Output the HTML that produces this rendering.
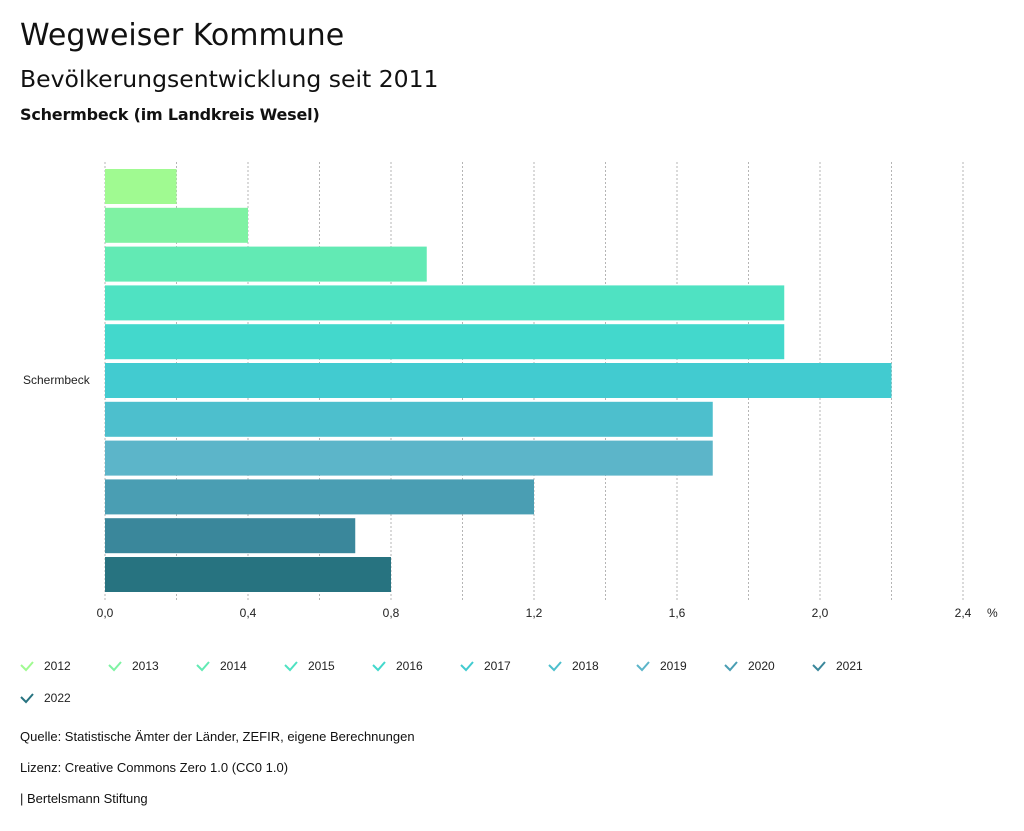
<!DOCTYPE html>
<html><head><meta charset="utf-8"><style>
body{margin:0;background:#fff;font-family:"Liberation Sans",sans-serif;color:#111}
#wrap{position:relative;width:1024px;height:831px;overflow:hidden}
.t{position:absolute;white-space:nowrap}
.dv{font-family:"DejaVu Sans",sans-serif}
</style></head><body>
<div id="wrap">
<div class="t dv" style="left:20px;top:18px;font-size:30px">Wegweiser Kommune</div>
<div class="t dv" style="left:20px;top:65px;font-size:23.5px">Bevölkerungsentwicklung seit 2011</div>
<div class="t dv" style="left:20px;top:105px;font-size:16px;font-weight:bold;letter-spacing:-0.2px">Schermbeck (im Landkreis Wesel)</div>
<svg id="chart" width="1024" height="831" style="position:absolute;left:0;top:0"></svg>
<div class="t" style="left:20px;top:729px;font-size:13px">Quelle: Statistische Ämter der Länder, ZEFIR, eigene Berechnungen</div>
<div class="t" style="left:20px;top:760px;font-size:13px">Lizenz: Creative Commons Zero 1.0 (CC0 1.0)</div>
<div class="t" style="left:20px;top:791px;font-size:13px">| Bertelsmann Stiftung</div>
</div>
<script>
const years=["2012","2013","2014","2015","2016","2017","2018","2019","2020","2021","2022"];
const values=[0.2,0.4,0.9,1.9,1.9,2.2,1.7,1.7,1.2,0.7,0.8];
const colors=["#a0fa91","#7ff2a3","#62eab4","#4fe2c2","#43d8cc","#42cbd0","#4dbfcd","#5cb5c9","#4a9eb3","#3a879b","#277380"];
const ticks=[0,0.4,0.8,1.2,1.6,2.0,2.4];
const gridVals=[0,0.2,0.4,0.6,0.8,1.0,1.2,1.4,1.6,1.8,2.0,2.2,2.4];
const svg=document.getElementById('chart');
const NS="http://www.w3.org/2000/svg";
const x0=105,x1=963,vmax=2.4,top0=169,step=38.8,bh=35;
const X=v=>x0+(v/vmax)*(x1-x0);
function mk(t,a){const e=document.createElementNS(NS,t);for(const k in a)e.setAttribute(k,a[k]);svg.appendChild(e);return e;}
gridVals.forEach(v=>{const l=mk('line',{x1:X(v),x2:X(v),y1:162,y2:600,stroke:'#b5b5b5','stroke-dasharray':'2,2'});

});
values.forEach((v,i)=>{const r=mk('rect',{x:x0,y:top0+i*step,width:X(v)-x0,height:bh,fill:colors[i]});

});
ticks.forEach(v=>{const t=mk('text',{x:X(v),y:617,'text-anchor':'middle','font-size':12,fill:'#222','font-family':'Liberation Sans'});t.textContent=v.toFixed(1).replace('.',',');

});
const u=mk('text',{x:987,y:617,'font-size':12,fill:'#222','font-family':'Liberation Sans'});u.textContent='%';


const c=mk('text',{x:23,y:384,'font-size':12,fill:'#222','font-family':'Liberation Sans'});c.textContent='Schermbeck';


years.forEach((y,i)=>{const row=i<10?0:1;const cx=20+(i<10?i:0)*88;const cy=665+row*32;
const g=document.createElementNS(NS,'g');svg.appendChild(g);


const p=document.createElementNS(NS,'path');p.setAttribute('d',`M${cx+1} ${cy} L${cx+6} ${cy+5} L${cx+13} ${cy-3}`);p.setAttribute('stroke',colors[i]);p.setAttribute('stroke-width','2');p.setAttribute('fill','none');g.appendChild(p);
const t=document.createElementNS(NS,'text');t.setAttribute('x',cx+24);t.setAttribute('y',cy+5);t.setAttribute('font-size','12');t.setAttribute('fill','#222');t.setAttribute('font-family','Liberation Sans');t.textContent=y;g.appendChild(t);});
</script>
</body></html>
